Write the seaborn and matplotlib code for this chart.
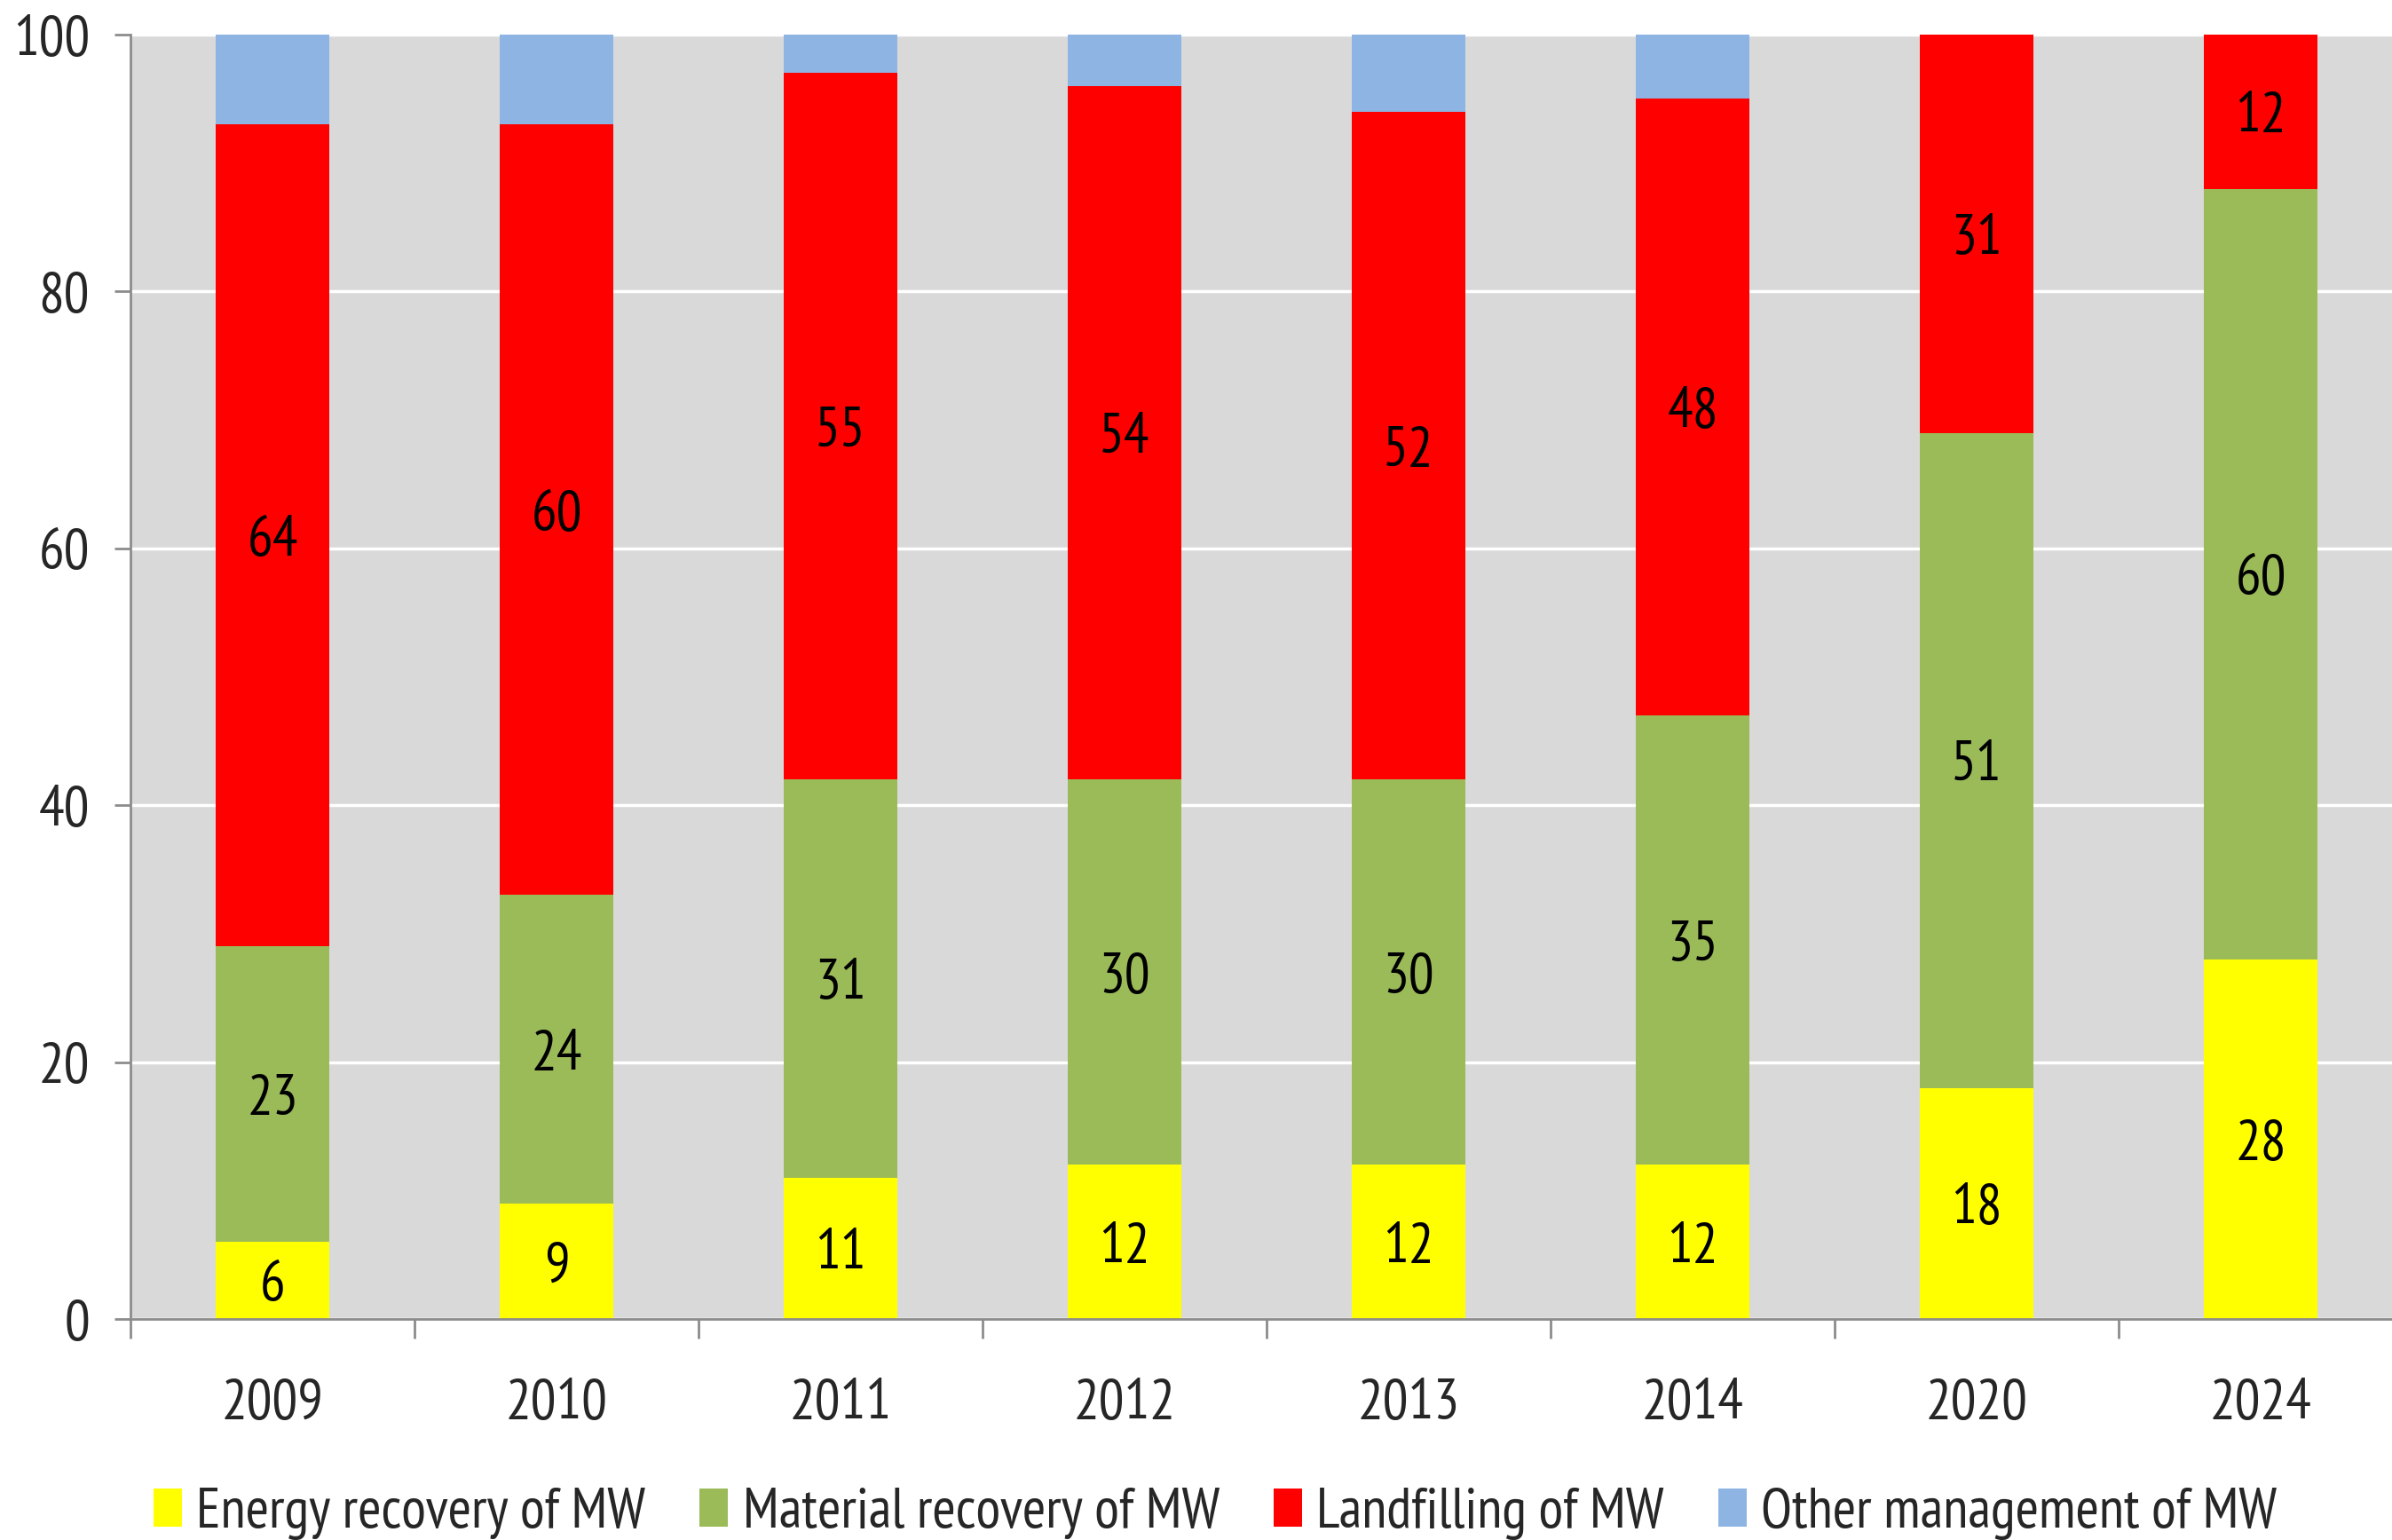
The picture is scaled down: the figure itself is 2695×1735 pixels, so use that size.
import numpy as np
import pandas as pd
import matplotlib
matplotlib.use("Agg")
import matplotlib.pyplot as plt
from matplotlib.patches import Patch
import seaborn as sns

years = ["2009", "2010", "2011", "2012", "2013", "2014", "2020", "2024"]
energy = [6, 9, 11, 12, 12, 12, 18, 28]
material = [23, 24, 31, 30, 30, 35, 51, 60]
landfill = [64, 60, 55, 54, 52, 48, 31, 12]
other = [7, 7, 3, 4, 6, 5, 0, 0]
series_names = ["Energy recovery of MW", "Material recovery of MW",
                "Landfilling of MW", "Other management of MW"]
colors = ["#FFFF00", "#9BBB59", "#FF0000", "#8EB4E3"]
yticks = [0, 20, 40, 60, 80, 100]

sns.set_theme(style="white")
plt.rcParams["font.family"] = ["PT Sans Narrow", "Liberation Sans Narrow", "DejaVu Sans"]

FS = 46
W, H = 2695, 1735
fig = plt.figure(figsize=(W / 100, H / 100), dpi=100)
ax = fig.add_axes([147 / W, 249 / H, 2560 / W, 1447 / H])
ax.set_facecolor("#D9D9D9")

layers = [energy, material, landfill, other]
cums = np.cumsum(np.array(layers), axis=0)
df = pd.DataFrame({"year": years})
# draw cumulative bars back to front
for i in range(len(layers) - 1, -1, -1):
    df["v"] = cums[i]
    sns.barplot(data=df, x="year", y="v", order=years, color=colors[i],
                saturation=1, width=0.4, linewidth=0, ax=ax, zorder=2)

# segment labels (first three series)
for i in range(3):
    for j in range(len(years)):
        val = layers[i][j]
        bottom = cums[i][j] - val
        ax.text(j, bottom + val / 2, f"{val}", ha="center", va="center_baseline",
                fontsize=FS, color="black", zorder=5)

ax.set_xlim(-0.5, len(years) - 0.5)
ax.set_ylim(0, 100)
ax.set_yticks(yticks)
ax.set_yticklabels([str(t) for t in yticks])
ax.set_xlabel("")
ax.set_ylabel("")

ax.yaxis.grid(True, color="white", linewidth=2.5)
ax.xaxis.grid(False)
ax.set_axisbelow(True)

for s in ["top", "right"]:
    ax.spines[s].set_visible(False)
for s in ["left", "bottom"]:
    ax.spines[s].set_color("#8C8C8C")
    ax.spines[s].set_linewidth(2)

ax.tick_params(axis="y", which="major", length=13, width=2, color="#8C8C8C",
               labelsize=FS, pad=20, left=True)
ax.set_xticks(np.arange(-0.5, len(years), 1.0), minor=True)
ax.tick_params(axis="x", which="minor", length=16, width=2, color="#8C8C8C",
               bottom=True)
ax.tick_params(axis="x", which="major", length=0, labelsize=FS, pad=48)

handles = [Patch(facecolor=c, edgecolor="none") for c in colors]
fig.legend(handles, series_names, loc="center", bbox_to_anchor=(0.508, 0.017),
           ncol=4, frameon=False, fontsize=FS, handlelength=0.5,
           handleheight=0.65, handletextpad=0.26, columnspacing=0.95)

fig.savefig("out.png", dpi=100)
